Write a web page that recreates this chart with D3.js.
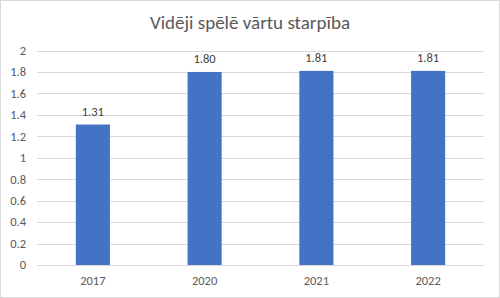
<!DOCTYPE html>
<html>
<head>
<meta charset="utf-8">
<script src="https://cdn.jsdelivr.net/npm/d3@7"></script>
<style>
    html, body { margin: 0; padding: 0; background: #fff; }
    #chart { width: 500px; height: 298px; }
</style>
</head>
<body>
<div id="chart"></div>
<script>
const title = 'Vidēji spēlē vārtu starpība';
const years = ['2017', '2020', '2021', '2022'];
const values = [1.31, 1.80, 1.81, 1.81];
const yTicks = [0, 0.2, 0.4, 0.6, 0.8, 1, 1.2, 1.4, 1.6, 1.8, 2];

(function () {
    const [width, height] = [500, 298];
    const [left, right, top, bottom] = [37, 484, 50.5, 265];
    const font = 'Calibri, Carlito, "Open Sans", sans-serif';

    let svg = d3.select('#chart')
                .append('svg')
                .attr('width', width)
                .attr('height', height);

    svg.append('rect')
       .attr('x', 0.5)
       .attr('y', 0.5)
       .attr('width', width - 1)
       .attr('height', height - 1)
       .attr('fill', '#fff')
       .attr('stroke', '#d9d9d9');

    svg.append('text')
       .attr('x', width / 2)
       .attr('y', 29)
       .attr('text-anchor', 'middle')
       .attr('font-family', font)
       .attr('font-size', '19px')
       .attr('fill', '#595959')
       .text(title);

    let x = d3.scaleBand()
              .domain(years)
              .range([left, right])
              .padding(0);
    let y = d3.scaleLinear()
              .domain([0, 2])
              .range([bottom, top]);

    // gridlines
    svg.append('g')
       .selectAll('line')
       .data(yTicks)
       .enter()
       .append('line')
       .attr('x1', left)
       .attr('x2', right)
       .attr('y1', d => Math.round(y(d)) + 0.5)
       .attr('y2', d => Math.round(y(d)) + 0.5)
       .attr('stroke', '#d9d9d9')
       .attr('stroke-width', 1);

    // y labels
    svg.append('g')
       .selectAll('text')
       .data(yTicks)
       .enter()
       .append('text')
       .attr('x', 26)
       .attr('y', d => y(d))
       .attr('dy', '0.35em')
       .attr('text-anchor', 'end')
       .attr('font-family', font)
       .attr('font-size', '12.5px')
       .attr('fill', '#595959')
       .text(d => d3.format('~g')(d));

    const barWidth = x.bandwidth() * 0.305;

    svg.append('g')
       .selectAll('rect')
       .data(values)
       .enter()
       .append('rect')
       .attr('x', (d, i) => x(years[i]) + (x.bandwidth() - barWidth) / 2)
       .attr('y', d => y(d))
       .attr('width', barWidth)
       .attr('height', d => bottom - y(d))
       .attr('fill', '#4472c4');

    // value labels
    svg.append('g')
       .selectAll('text')
       .data(values)
       .enter()
       .append('text')
       .attr('x', (d, i) => x(years[i]) + x.bandwidth() / 2)
       .attr('y', d => y(d) - 9)
       .attr('text-anchor', 'middle')
       .attr('font-family', font)
       .attr('font-size', '12.5px')
       .attr('fill', '#404040')
       .text(d => d.toFixed(2));

    // x axis line
    svg.append('line')
       .attr('x1', left)
       .attr('x2', right)
       .attr('y1', Math.round(bottom) + 0.5)
       .attr('y2', Math.round(bottom) + 0.5)
       .attr('stroke', '#d9d9d9');

    svg.append('g')
       .selectAll('text')
       .data(years)
       .enter()
       .append('text')
       .attr('x', d => x(d) + x.bandwidth() / 2)
       .attr('y', 285)
       .attr('text-anchor', 'middle')
       .attr('font-family', font)
       .attr('font-size', '12.5px')
       .attr('fill', '#595959')
       .text(d => d);
})();
</script>
</body>
</html>
